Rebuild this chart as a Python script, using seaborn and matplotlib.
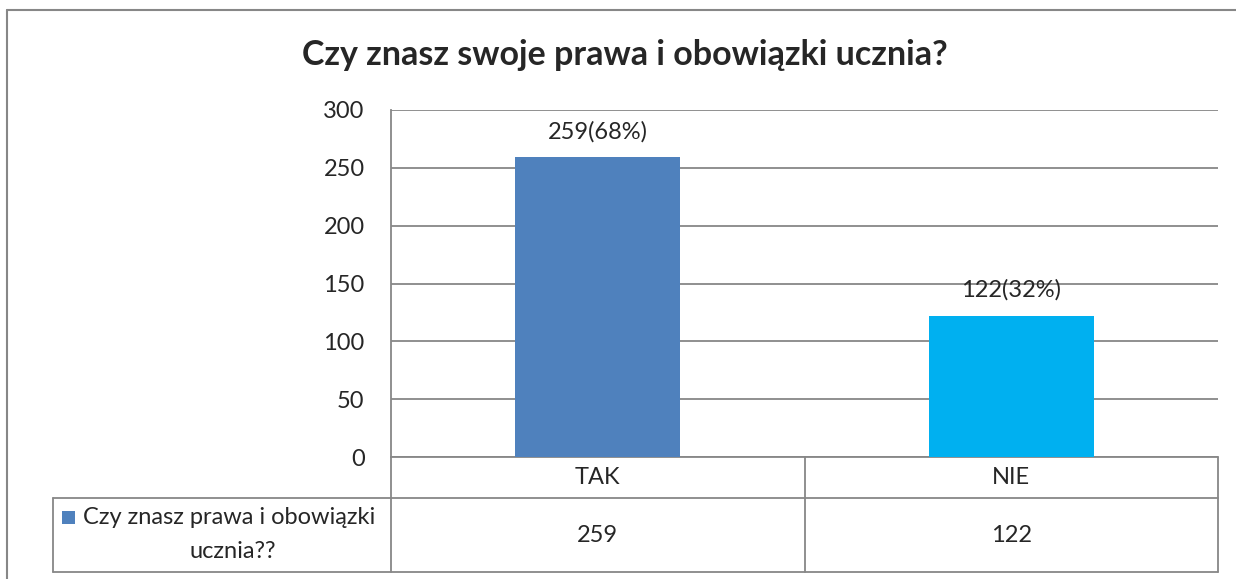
import matplotlib.pyplot as plt
import seaborn as sns
from matplotlib.lines import Line2D
from matplotlib.patches import Rectangle
import matplotlib.transforms as mtransforms

categories = ["TAK", "NIE"]
values = [259, 122]
bar_colors = ["#4F81BD", "#00B0F0"]
title = "Czy znasz swoje prawa i obowiązki ucznia?"
series_name = ["Czy znasz prawa i obowiązki", "ucznia??"]
yticks = [0, 50, 100, 150, 200, 250, 300]

W, H = 1236, 579
GRID = "#878787"
FS = 17

sns.set_style("white")
plt.rcParams["font.family"] = ["Lato", "DejaVu Sans"]

fig = plt.figure(figsize=(W / 100, H / 100), dpi=100)
ax = fig.add_axes([391 / W, 1 - 457 / H, 827 / W, 347 / H])

sns.barplot(x=categories, y=values, hue=categories, palette=bar_colors,
            width=0.4, saturation=1, legend=False, linewidth=0, ax=ax, zorder=3)

ax.set_ylim(0, 300)
ax.set_xlim(-0.5, len(categories) - 0.5)
ax.set_yticks(yticks)
ax.set_xticks([])
ax.set_xlabel("")
ax.set_ylabel("")
ax.tick_params(axis="y", length=0, pad=19, labelsize=FS)
ax.yaxis.grid(True, color=GRID, linewidth=1.3)
ax.set_axisbelow(True)
for side in ["top", "right", "bottom"]:
    ax.spines[side].set_visible(False)
ax.spines["left"].set_color(GRID)
ax.spines["left"].set_linewidth(1.3)

# data labels
total = sum(values)
for i, v in enumerate(values):
    ax.annotate(f"{v}({round(v / total * 100)}%)", (i, v), xytext=(0, 11),
                textcoords="offset points", ha="center", va="bottom", fontsize=FS)

# data table under the axis
tr = mtransforms.blended_transform_factory(ax.transData, ax.transAxes)
row1 = -41 / 347
row2 = -115 / 347
left = -0.5 - 338 / 413
right = len(categories) - 0.5
lk = dict(color=GRID, linewidth=1.3, transform=tr, clip_on=False)
ax.add_line(Line2D([-0.5, right], [0, 0], **lk))
ax.add_line(Line2D([left, right], [row1, row1], **lk))
ax.add_line(Line2D([left, right], [row2, row2], **lk))
ax.add_line(Line2D([left, left], [row1, row2], **lk))
for xb in range(len(categories) + 1):
    ax.add_line(Line2D([xb - 0.5, xb - 0.5], [0, row2], **lk))
for i, (c, v) in enumerate(zip(categories, values)):
    ax.text(i, row1 / 2, c, transform=tr, ha="center", va="center", fontsize=FS)
    ax.text(i, (row1 + row2) / 2, str(v), transform=tr, ha="center", va="center", fontsize=FS)

# series name with legend key
ax.add_patch(Rectangle((left + 9 / 413, -(511 - 457) / 347 - 13 / 347), 13 / 413, 13 / 347,
                       transform=tr, clip_on=False, facecolor=bar_colors[0], edgecolor="none"))
ax.text(left + 30 / 413, -(517 - 457) / 347, series_name[0], transform=tr,
        ha="left", va="center", fontsize=FS)
ax.text(left + 180 / 413, -(552 - 457) / 347, series_name[1], transform=tr,
        ha="center", va="center", fontsize=FS)

fig.text(625 / W, 1 - 55 / H, title, ha="center", va="center",
         fontsize=24.5, fontweight="bold")

# chart area border (cropped on right and bottom)
fig.add_artist(Line2D([7 / W, 7 / W], [0, 1 - 10 / H], color=GRID, linewidth=1.5))
fig.add_artist(Line2D([7 / W, 1], [1 - 10 / H, 1 - 10 / H], color=GRID, linewidth=1.5))

fig.savefig("out.png", dpi=100)
